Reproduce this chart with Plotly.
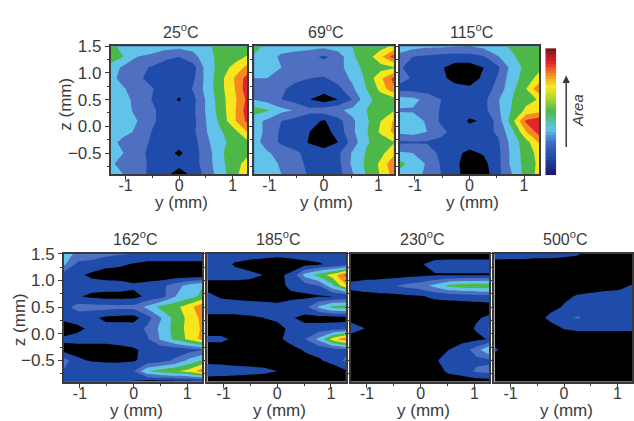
import plotly.graph_objects as go

y_mm = [-1.3, -1.04, -0.78, -0.52, -0.26, 0, 0.26, 0.52, 0.78, 1.04, 1.3]
z_mm = [-0.9, -0.7, -0.5, -0.3, -0.1, 0.1, 0.3, 0.5, 0.7, 0.9, 1.1, 1.3, 1.5]
titles = ["25<sup>o</sup>C", "69<sup>o</sup>C", "115<sup>o</sup>C", "162<sup>o</sup>C", "185<sup>o</sup>C", "230<sup>o</sup>C", "500<sup>o</sup>C"]

area_25 = [
 [3.4,3.0,2.5,1.7,1.3,0.4,1.3,2.4,3.6,4.6,6.2],
 [3.4,2.3,2.4,1.8,1.4,1.4,1.6,2.5,3.8,4.5,5.6],
 [3.3,3.0,2.4,1.7,1.4,0.8,1.6,2.5,3.9,4.4,4.8],
 [3.5,2.6,2.4,1.9,1.5,1.4,1.6,2.8,3.8,4.3,4.9],
 [4.0,3.4,2.8,2.0,1.5,1.4,1.8,3.0,3.9,4.7,6.2],
 [4.1,3.4,3.0,2.2,1.6,1.4,1.7,3.1,4.3,5.9,7.4],
 [3.6,3.3,2.8,2.2,1.6,1.4,1.8,3.2,4.5,5.9,7.7],
 [3.4,3.3,2.7,2.0,1.4,0.9,1.7,3.2,4.6,5.8,7.4],
 [3.4,3.1,2.5,2.1,1.5,1.3,2.1,3.4,4.7,6.0,7.8],
 [3.4,2.6,2.2,1.7,1.2,1.2,1.8,3.4,4.7,6.1,7.6],
 [3.6,2.8,2.4,1.9,1.4,1.3,1.6,3.5,4.4,5.4,6.4],
 [4.7,4.0,3.0,2.8,2.3,2.0,2.6,3.7,4.3,4.5,5.2],
 [4.4,3.6,3.5,3.5,3.4,3.3,3.4,3.9,4.2,4.3,4.4],
]
area_69 = [
 [4.1,3.5,3.0,2.7,1.8,1.4,1.6,2.9,4.1,5.1,6.5],
 [3.5,3.3,2.9,2.4,1.7,1.4,1.7,3.2,4.2,5.2,7.0],
 [3.4,3.1,2.7,2.2,1.6,1.4,1.8,3.1,4.1,4.7,5.8],
 [3.4,2.6,1.8,1.5,0.9,0.5,1.0,2.4,3.9,4.4,5.0],
 [3.6,2.7,1.8,1.4,1.0,0.6,1.4,2.8,3.9,5.2,6.3],
 [3.4,2.8,2.0,1.6,1.3,0.9,1.6,2.8,3.8,5.0,6.2],
 [4.5,4.1,3.3,2.9,2.3,2.5,2.8,3.3,4.0,4.5,5.0],
 [3.0,2.6,2.0,1.6,1.0,0.5,1.0,2.0,3.7,4.4,4.6],
 [2.8,2.6,2.2,1.6,1.4,1.4,1.7,2.8,4.0,5.3,7.0],
 [3.0,3.0,2.9,2.3,2.0,1.9,2.4,3.2,4.2,5.8,7.4],
 [3.4,3.4,3.0,2.7,2.6,2.5,2.6,3.6,4.3,4.6,4.9],
 [3.9,3.5,2.8,2.5,2.3,1.8,2.4,3.9,4.4,5.8,7.6],
 [4.5,3.7,3.5,3.5,3.4,3.3,3.6,4.0,4.3,4.5,5.3],
]
area_115 = [
 [3.7,3.2,2.9,2.0,1.3,0.5,0.5,1.7,3.0,4.4,5.4],
 [4.4,3.6,2.9,1.9,1.2,0.5,0.7,1.7,3.3,4.4,5.3],
 [3.2,3.0,2.6,1.7,1.2,0.8,1.1,1.7,3.3,4.5,5.4],
 [1.8,1.9,1.9,1.7,1.5,1.4,1.5,1.8,3.4,4.6,6.2],
 [3.3,3.5,3.0,2.3,1.6,1.3,1.5,2.2,3.7,6.0,7.6],
 [3.5,3.4,2.9,1.8,1.5,0.9,1.1,2.4,4.6,7.2,7.8],
 [2.9,2.9,2.6,1.9,1.5,1.3,1.7,2.8,4.1,5.2,5.6],
 [3.4,3.3,2.7,2.0,1.5,1.4,1.7,2.9,4.0,4.7,5.1],
 [1.7,1.6,1.5,1.4,1.3,1.2,1.4,2.4,3.7,5.0,7.0],
 [2.4,1.9,1.4,1.2,0.7,0.5,1.2,2.1,3.6,4.4,5.5],
 [2.2,1.5,1.4,1.1,0.6,0.5,1.0,1.8,3.4,4.3,4.8],
 [2.7,2.0,1.8,1.6,1.5,1.6,1.9,2.9,3.9,4.3,5.1],
 [3.6,3.4,3.2,3.2,3.1,3.0,3.3,3.8,4.1,4.3,4.8],
]
area_162 = [
 [1.2,1.2,1.2,1.2,1.1,0.9,0.5,0.5,0.5,0.5,0.5],
 [1.9,2.0,2.0,1.9,1.8,1.9,3.9,4.5,4.9,5.4,6.7],
 [2.5,1.2,0.9,0.8,0.8,0.9,1.3,1.6,2.2,3.3,4.2],
 [0.6,0.6,0.6,0.6,0.7,0.9,1.2,1.3,1.4,1.6,2.0],
 [1.2,1.3,1.3,1.3,1.4,1.4,1.9,3.2,4.3,5.3,6.4],
 [0.4,0.8,1.2,1.3,1.4,1.5,2.2,3.3,4.4,5.4,6.2],
 [1.3,1.4,1.2,0.8,0.7,0.6,1.6,3.0,4.4,5.3,6.4],
 [1.6,2.4,2.4,2.4,2.3,2.3,3.3,4.4,4.7,5.6,7.0],
 [1.2,1.1,0.8,0.6,0.6,0.7,1.2,1.6,3.0,3.6,4.3],
 [1.2,1.3,1.4,1.5,1.5,1.2,1.4,1.7,2.6,3.4,4.0],
 [1.5,1.2,0.8,0.5,0.4,0.3,0.3,0.3,0.3,0.3,0.3],
 [3.2,1.7,1.6,1.3,1.2,0.9,0.6,0.6,0.6,0.6,0.6],
 [3.4,2.8,2.6,2.3,2.1,2.0,2.0,2.0,2.0,2.0,2.0],
]
area_185 = [
 [0.4,0.4,0.4,0.4,0.4,0.4,0.4,0.4,0.4,0.4,0.4],
 [1.6,1.5,1.4,1.3,1.2,1.0,0.5,0.5,0.5,0.5,0.9],
 [0.7,0.7,0.6,0.6,0.6,0.6,0.6,0.7,0.9,1.3,2.3],
 [0.5,0.5,0.5,0.5,0.5,0.5,0.7,1.1,1.3,1.5,1.8],
 [1.2,1.2,0.8,0.6,0.7,0.8,1.3,2.0,3.3,5.5,7.0],
 [0.5,0.5,0.5,0.5,0.5,0.7,1.2,1.3,1.4,1.5,1.6],
 [0.8,0.8,0.8,0.9,1.0,1.2,1.1,0.7,0.6,0.6,0.6],
 [1.4,1.4,1.4,1.4,1.3,1.2,1.4,1.7,3.2,4.3,4.5],
 [1.2,0.9,0.8,0.7,0.7,0.7,0.8,0.8,0.9,1.0,1.1],
 [0.7,0.7,0.7,0.7,0.7,0.7,1.2,1.5,2.0,3.8,6.0],
 [1.3,1.3,1.3,1.2,1.0,0.8,1.2,3.4,4.4,5.5,7.4],
 [1.4,1.3,0.9,0.7,0.5,0.4,0.5,0.7,0.9,1.2,1.5],
 [1.5,1.5,1.4,1.4,1.4,1.3,1.4,1.5,1.5,1.5,1.5],
]
area_230 = [
 [0.4,0.4,0.4,0.4,0.4,0.4,0.4,0.4,0.4,0.4,0.4],
 [0.4,0.4,0.4,0.4,0.4,0.4,0.5,1.2,1.5,2.2,2.4],
 [0.4,0.4,0.4,0.4,0.4,0.5,0.9,1.3,1.5,1.7,1.8],
 [0.4,0.4,0.4,0.4,0.4,0.5,0.7,1.0,1.5,2.5,4.3],
 [0.4,0.4,0.4,0.4,0.4,0.4,0.5,0.6,0.7,0.8,1.1],
 [1.6,1.0,0.4,0.4,0.4,0.4,0.4,0.5,0.6,1.1,2.2],
 [0.5,0.4,0.4,0.4,0.4,0.4,0.5,0.6,0.7,0.9,1.2],
 [0.5,0.5,0.5,0.5,0.5,0.5,0.5,0.5,0.5,0.5,0.6],
 [0.6,0.6,0.7,0.7,0.8,0.9,1.2,1.3,1.4,1.5,1.6],
 [1.3,1.6,1.7,1.9,2.3,2.6,3.3,4.3,4.6,4.7,4.8],
 [0.5,0.5,0.5,0.6,0.7,0.8,0.9,0.9,0.9,0.9,0.9],
 [0.4,0.4,0.4,0.4,0.4,0.9,1.4,1.5,1.5,1.5,1.5],
 [0.4,0.4,0.4,0.4,0.4,0.4,0.4,0.4,0.4,0.4,0.4],
]
area_500 = [
 [0.4,0.4,0.4,0.4,0.4,0.4,0.4,0.4,0.4,0.4,0.4],
 [0.4,0.4,0.4,0.4,0.4,0.4,0.4,0.4,0.4,0.4,0.4],
 [0.4,0.4,0.4,0.4,0.4,0.4,0.4,0.4,0.4,0.4,0.4],
 [1.2,0.5,0.4,0.4,0.4,0.4,0.4,0.4,0.4,0.4,0.4],
 [0.4,0.4,0.4,0.4,0.4,0.4,0.4,0.4,0.4,0.4,0.4],
 [0.4,0.4,0.4,0.4,0.5,1.05,1.2,1.2,1.2,1.2,1.2],
 [0.4,0.4,0.4,0.5,1.3,1.8,2.1,1.6,1.4,1.4,1.4],
 [0.4,0.4,0.4,0.4,0.6,1.1,1.3,1.3,1.3,1.3,1.3],
 [0.4,0.4,0.4,0.4,0.4,0.8,1.1,1.2,1.3,1.3,1.4],
 [0.4,0.4,0.4,0.4,0.4,0.4,0.5,0.6,0.7,0.8,1.1],
 [0.4,0.4,0.4,0.4,0.4,0.4,0.4,0.4,0.4,0.4,0.4],
 [0.6,0.6,0.6,0.6,0.6,0.6,0.5,0.4,0.4,0.4,0.4],
 [1.5,1.4,1.4,1.3,1.3,1.2,1.1,0.5,0.4,0.4,0.4],
]
panels = [area_25, area_69, area_115, area_162, area_185, area_230, area_500]

band_colors = ["#000000", "#1f4cab", "#4f6fc0", "#62c3ea", "#4db848", "#f5e71c", "#f58b1e", "#e5232a"]
colorbar_levels = [[v] for v in range(0, 41)]
colorbar_scale = [[0, "#1a1a6e"], [0.1, "#1c3f9e"], [0.25, "#3f6fc4"], [0.36, "#62c3ea"], [0.5, "#4db848"],
                  [0.62, "#b8d92c"], [0.7, "#f5e71c"], [0.8, "#f58b1e"], [0.9, "#e5232a"], [1, "#7a1418"]]

W, H = 634, 421
boxes = [(111, 248, 38, 169), (255, 395, 38, 169), (401, 541, 38, 169),
         (64, 203, 250, 381), (208, 347, 250, 381), (352, 491, 250, 381), (496, 634, 250, 381)]
y_ranges = [(-1.28, 1.27), (-1.28, 1.28), (-1.28, 1.28), (-1.3, 1.28), (-1.3, 1.28), (-1.3, 1.28), (-1.3, 1.27)]

n = len(band_colors)
scale = []
for i, c in enumerate(band_colors):
    scale += [[i / n, c], [(i + 1) / n, c]]

FONT = "Liberation Sans, Arial, sans-serif"
INK = "#3a3a3a"
fig = go.Figure()
layout = dict(width=W, height=H, margin=dict(l=0, r=0, t=0, b=0), paper_bgcolor="white",
              plot_bgcolor="white", showlegend=False, font=dict(family=FONT, size=16, color=INK))
ann = []
def label(text, px, py, size, angle=0):
    ann.append(dict(text=text, xref="paper", yref="paper", x=px / W, y=1 - py / H, showarrow=False, textangle=angle,
                    font=dict(size=size, color=INK), xanchor="center", yanchor="middle"))

for i, (data, box) in enumerate(zip(panels, boxes)):
    s = "" if i == 0 else str(i + 1)
    fig.add_trace(go.Contour(x=y_mm, y=z_mm, z=data, xaxis="x" + s, yaxis="y" + s,
                             colorscale=scale, zmin=0, zmax=n, showscale=False,
                             contours=dict(coloring="fill", start=1, end=n - 1, size=1, showlines=False),
                             line=dict(width=0, smoothing=0)))
    l, r, t, b = box
    layout["xaxis" + s] = dict(domain=[l / W, r / W], range=list(y_ranges[i]), anchor="y" + s,
                               tickvals=[-1, 0, 1], ticktext=["-1", "0", "1"], ticks="outside", ticklen=4,
                               tickwidth=1, tickcolor=INK, showline=True, linecolor=INK, linewidth=1.5, mirror=True,
                               showgrid=False, zeroline=False, tickfont=dict(size=16), ticklabelstandoff=-8,
                               minor=dict(tickvals=[-0.5, 0.5], ticks="outside", ticklen=2, tickcolor=INK))
    layout["yaxis" + s] = dict(domain=[1 - b / H, 1 - t / H], range=[-0.9, 1.5], anchor="x" + s,
                               tickvals=[-0.5, 0, 0.5, 1, 1.5], ticks="outside", ticklen=4, tickwidth=1, tickcolor=INK,
                               showticklabels=i in (0, 3), tickformat=".1f",
                               showline=True, linecolor=INK, linewidth=1.5, mirror=True, showgrid=False, zeroline=False,
                               tickfont=dict(size=17),
                               minor=dict(tickvals=[-0.75, -0.25, 0.25, 0.75, 1.25], ticks="outside", ticklen=2, tickcolor=INK))
    label(titles[i], (l + r) / 2 + 2, t - 16, 16)
    label("y (mm)", (l + r) / 2 + 3, b + 29, 17)
label("z (mm)", 66, 97, 17, -90)
label("z (mm)", 19, 317, 17, -90)

fig.add_trace(go.Heatmap(z=colorbar_levels, xaxis="x8", yaxis="y8", colorscale=colorbar_scale, showscale=False))
layout["xaxis8"] = dict(domain=[547 / W, 558 / W], visible=False, anchor="y8")
layout["yaxis8"] = dict(domain=[1 - 170 / H, 1 - 40 / H], visible=False, anchor="x8")
ann.append(dict(x=568 / W, y=1 - 68 / H, ax=0, ay=73, xref="paper", yref="paper", axref="pixel", ayref="pixel",
                text="", showarrow=True, arrowhead=2, arrowsize=1, arrowwidth=1.5, arrowcolor=INK))
label("<i>Area</i>", 580, 104, 15, -90)
layout["annotations"] = ann
fig.update_layout(**layout)
fig.write_html("out.html", post_script="document.body.style.margin='0';", config={"displayModeBar": False})
